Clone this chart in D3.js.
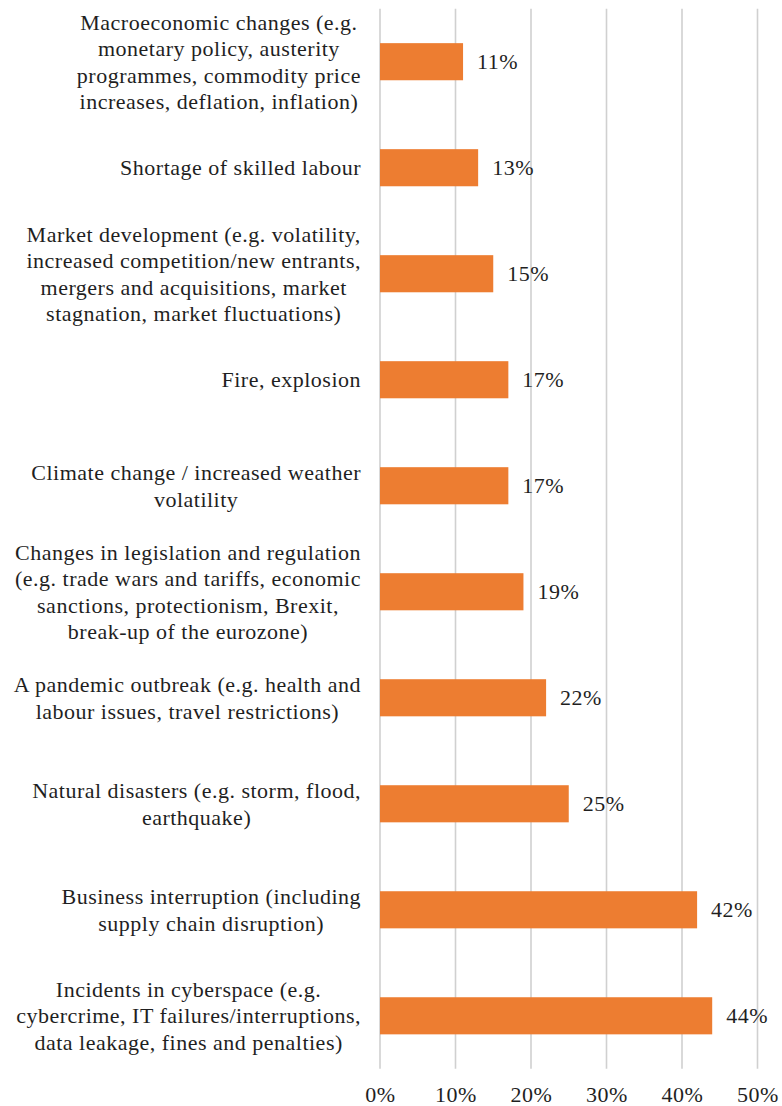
<!DOCTYPE html>
<html>
<head>
<meta charset="utf-8">
<script src="https://cdn.jsdelivr.net/npm/d3@7"></script>
<style>
  html, body { margin: 0; padding: 0; background: #ffffff; }
  svg { display: block; }
</style>
</head>
<body>
<svg id="chart" width="782" height="1106"></svg>
<script>
// Risk categories (wrapped lines separated by "|"), top to bottom
const categories = [
  "Macroeconomic changes (e.g.|monetary policy, austerity|programmes, commodity price|increases, deflation, inflation)",
  "Shortage of skilled labour",
  "Market development (e.g. volatility,|increased competition/new entrants,|mergers and acquisitions, market|stagnation, market fluctuations)",
  "Fire, explosion",
  "Climate change / increased weather|volatility",
  "Changes in legislation and regulation|(e.g. trade wars and tariffs, economic|sanctions, protectionism, Brexit,|break-up of the eurozone)",
  "A pandemic outbreak (e.g. health and|labour issues, travel restrictions)",
  "Natural disasters (e.g. storm, flood,|earthquake)",
  "Business interruption (including|supply chain disruption)",
  "Incidents in cyberspace (e.g.|cybercrime, IT failures/interruptions,|data leakage, fines and penalties)"
];
// Share of respondents, percent
const values = [11, 13, 15, 17, 17, 19, 22, 25, 42, 44];
const tickValues = [0, 10, 20, 30, 40, 50];

const FONT = "'Liberation Serif', serif";
const TEXT_COLOR = "#1f1f1f";
const fontSize = 22;
const letterSpacing = 0.5;
const lineHeight = 26.5;
const labelRight = 361;

const svg = d3.select("#chart");
const plot = { left: 380, right: 757.5, top: 8.7, bottom: 1068.8 };

const x = d3.scaleLinear().domain([0, 50]).range([plot.left, plot.right]);
const y = d3.scaleBand()
  .domain(d3.range(categories.length))
  .range([plot.top, plot.bottom])
  .paddingInner(0.65)
  .paddingOuter(0.325);

function styleText(sel) {
  return sel
    .style("font-family", FONT)
    .style("font-size", fontSize + "px")
    .style("letter-spacing", letterSpacing + "px")
    .style("fill", TEXT_COLOR);
}

// Vertical gridlines
svg.append("g")
  .selectAll("line")
  .data(tickValues)
  .join("line")
  .attr("x1", d => x(d)).attr("x2", d => x(d))
  .attr("y1", plot.top).attr("y2", plot.bottom)
  .attr("stroke", "#d0d0d0")
  .attr("stroke-width", 1.6);

// Bars
svg.append("g")
  .selectAll("rect")
  .data(values)
  .join("rect")
  .attr("x", x(0))
  .attr("y", (d, i) => y(i))
  .attr("width", d => x(d) - x(0))
  .attr("height", y.bandwidth())
  .attr("fill", "#ED7D31");

// Value labels
svg.append("g")
  .selectAll("text")
  .data(values)
  .join("text")
  .attr("x", d => x(d) + 14)
  .attr("y", (d, i) => y(i) + y.bandwidth() / 2)
  .attr("dy", "0.35em")
  .call(styleText)
  .text(d => d + "%");

// X axis tick labels
const xAxis = d3.axisBottom(x)
  .tickValues(tickValues)
  .tickFormat(d => d + "%")
  .tickSize(0)
  .tickPadding(0);
const axisG = svg.append("g")
  .attr("transform", `translate(0, ${plot.bottom})`)
  .call(xAxis);
axisG.attr("font-family", null).attr("font-size", null);
axisG.select(".domain").remove();
axisG.selectAll("text")
  .attr("y", 33)
  .attr("dy", 0)
  .call(styleText);

// Category labels: each block of lines is centered, block right-aligned to the axis
const catG = svg.append("g");
categories.forEach((c, i) => {
  const lines = c.split("|");
  const cy = y(i) + y.bandwidth() / 2;
  const texts = lines.map((ln, k) =>
    catG.append("text")
      .attr("text-anchor", "middle")
      .attr("y", cy + (k - (lines.length - 1) / 2) * lineHeight)
      .attr("dy", "0.35em")
      .call(styleText)
      .text(ln)
  );
  const maxW = d3.max(texts, t => t.node().getComputedTextLength());
  texts.forEach(t => t.attr("x", labelRight - maxW / 2));
});
</script>
</body>
</html>
